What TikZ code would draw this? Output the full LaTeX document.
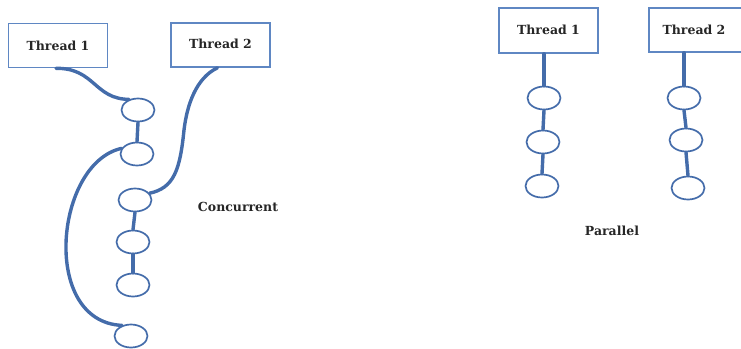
\documentclass[tikz,border=0pt]{standalone}
\usepackage{fontspec}
\setmainfont{DejaVu Serif}
\usetikzlibrary{shapes.geometric}
\definecolor{linec}{RGB}{68,108,170}
\definecolor{boxc}{RGB}{95,135,195}
\tikzset{
  threadbox/.style={draw=boxc, line width=1.6pt, minimum width=99pt, minimum height=44pt, inner sep=0pt, font=\fontsize{12.5}{14}\selectfont\bfseries, text=black!85},
  evt/.style={ellipse, draw=linec, line width=1.7pt, minimum width=33pt, minimum height=23pt, inner sep=0pt},
  conn/.style={draw=linec, line width=3.4pt, line cap=round},
  lbl/.style={font=\fontsize{12.5}{14}\selectfont\bfseries, text=black!85}
}
\begin{document}
\begin{tikzpicture}[x=1pt, y=-1pt]
\useasboundingbox (0,0) rectangle (741,348);
\clip (0,0) rectangle (741,348);
% Concurrent
\node[threadbox] (t1l) at (58,45.5) {Thread 1};
\node[threadbox] (t2l) at (220.5,45) {\raisebox{2pt}{Thread 2}};
\node[evt] (e1) at (138,110) {};
\node[evt] (e2) at (137,154) {};
\node[evt] (e3) at (135,200) {};
\node[evt] (e4) at (133,242) {};
\node[evt] (e5) at (133,285) {};
\node[evt] (e6) at (131,336) {};
\node[lbl] (conc) at (238,207) {Concurrent};
\coordinate (bend) at (184,130);
\draw[conn] ([xshift=-2pt]t1l.south) .. controls (95,68) and (94,99) .. (e1.130);
\draw[conn] (e1.south) -- (e2.north);
\draw[conn] (e2.160) .. controls (55,163) and (40,322) .. (e6.130);
\draw[conn] ([xshift=-3pt]t2l.south) .. controls (196,78) and (187,105) .. (bend)
  .. controls (180,170) and (174,188) .. (e3.25);
\draw[conn] (e3.south) -- (e4.north);
\draw[conn] (e4.south) -- (e5.north);
% Parallel
\node[threadbox, minimum height=45pt] (t1r) at (548.5,30.5) {\raisebox{1pt}{Thread 1}};
\node[threadbox, minimum width=96pt] (t2r) at (697,30) {\hspace*{-6pt}Thread 2};
\node[evt] (a1) at (544,98) {};
\node[evt] (a2) at (543,142) {};
\node[evt] (a3) at (542,186) {};
\node[evt] (b1) at (684,98) {};
\node[evt] (b2) at (686,140) {};
\node[evt] (b3) at (688,188) {};
\node[lbl] (par) at (612,231) {Parallel};
\draw[conn] (a1.north |- t1r.south) -- (a1.north);
\draw[conn] (a1.south) -- (a2.north);
\draw[conn] (a2.south) -- (a3.north);
\draw[conn] (b1.north |- t2r.south) -- (b1.north);
\draw[conn] (b1.south) -- (b2.north);
\draw[conn] (b2.south) -- (b3.north);
\end{tikzpicture}
\end{document}
